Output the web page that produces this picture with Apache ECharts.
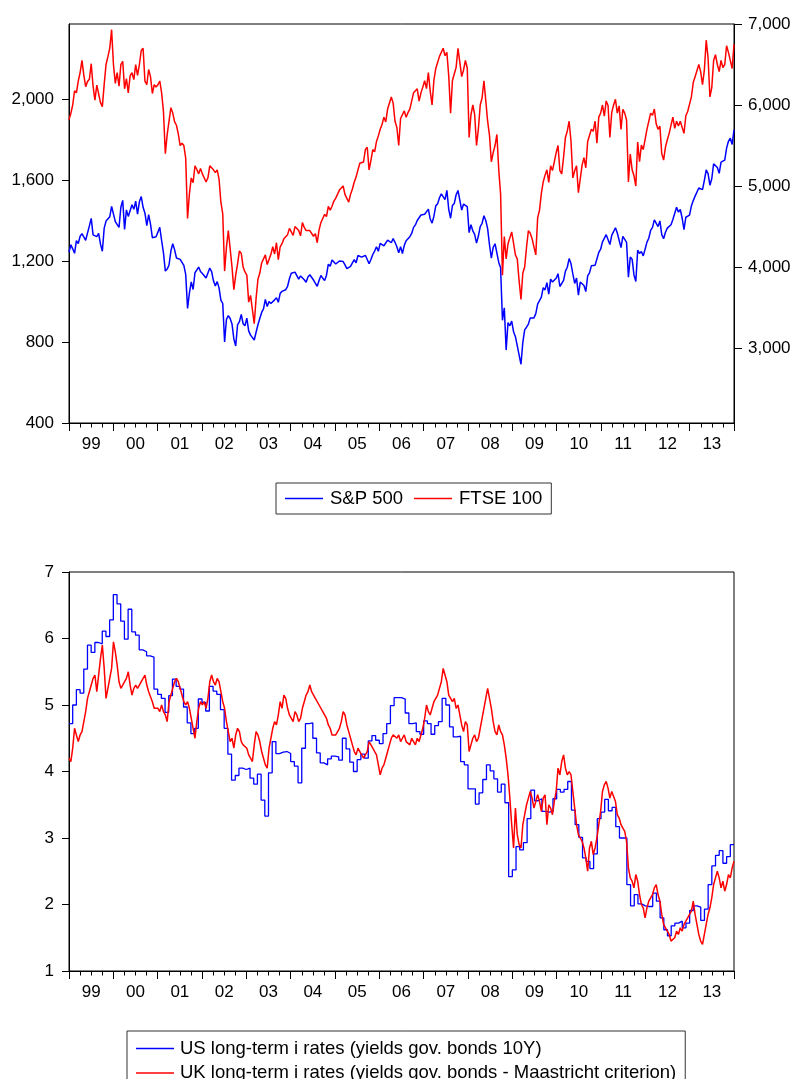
<!DOCTYPE html>
<html>
<head>
<meta charset="utf-8">
<script src="https://cdn.jsdelivr.net/npm/echarts@6/dist/echarts.min.js"></script>
<style>
html,body{margin:0;padding:0;background:#fff;}
#chart{width:795px;height:1079px;}
</style>
</head>
<body>
<div id="chart"></div>
<script>
// Semi-monthly observations, Jan 1999 - Dec 2013 (2 per month)
const spx = [
1243,1280,1260,1238,1300,1286,1322,1335,1340,1302,1294,1373,1410,1329,1330,1320,1336,1283,1248,1362,1397,1389,1418,1469,
1465,1394,1387,1366,1465,1499,1356,1452,1420,1421,1478,1455,1495,1431,1492,1518,1465,1436,1374,1429,1382,1315,1312,1320,
1326,1366,1301,1240,1150,1160,1180,1249,1285,1256,1215,1224,1208,1211,1178,1134,966,1041,1097,1059,1142,1139,1170,1148,
1138,1130,1116,1107,1165,1147,1102,1077,1098,1067,1007,990,800,912,930,916,889,815,780,885,900,936,890,880,
918,855,834,841,810,848,885,916,946,963,1010,975,1000,990,990,1008,1018,996,1040,1050,1050,1058,1075,1112,
1139,1131,1145,1145,1110,1126,1135,1107,1095,1121,1132,1141,1106,1102,1075,1104,1128,1115,1103,1130,1184,1174,1205,1212,
1185,1181,1200,1204,1197,1181,1162,1157,1173,1191,1206,1191,1227,1234,1219,1220,1228,1229,1186,1207,1232,1249,1270,1248,
1287,1280,1275,1281,1303,1295,1290,1311,1292,1270,1240,1270,1237,1277,1300,1304,1320,1336,1366,1378,1400,1401,1427,1418,
1431,1438,1456,1407,1387,1421,1472,1482,1512,1531,1532,1503,1549,1455,1411,1474,1484,1527,1548,1549,1451,1481,1486,1468,
1340,1379,1349,1331,1288,1323,1370,1386,1423,1400,1360,1280,1214,1267,1285,1283,1193,1166,907,969,760,896,880,903,
850,826,826,735,690,798,860,873,888,919,925,919,940,987,1004,1021,1068,1057,1093,1036,1110,1096,1105,1115,
1137,1074,1076,1104,1150,1169,1212,1187,1136,1089,1116,1031,1096,1102,1079,1049,1126,1141,1176,1183,1179,1181,1242,1258,
1294,1286,1330,1327,1281,1326,1320,1364,1338,1345,1266,1321,1316,1292,1120,1219,1209,1131,1099,1253,1237,1247,1225,1258,
1293,1312,1351,1366,1403,1408,1370,1398,1330,1310,1342,1362,1356,1379,1405,1407,1465,1441,1454,1412,1355,1416,1419,1426,
1472,1498,1520,1515,1560,1569,1552,1598,1650,1631,1574,1606,1680,1686,1661,1633,1688,1682,1698,1757,1791,1806,1775,1848
];
const ftse = [
5820,5896,6000,6175,6150,6296,6400,6552,6370,6226,6290,6318,6510,6231,6060,6246,6250,6030,5980,6255,6500,6597,6700,6930,
6500,6268,6400,6232,6500,6540,6200,6327,6150,6359,6400,6313,6500,6365,6500,6673,6700,6294,6250,6438,6350,6142,6250,6222,
6250,6297,6150,5918,5400,5634,5800,5967,5900,5796,5750,5643,5500,5529,5500,5345,4600,4903,5100,5040,5250,5204,5150,5217,
5150,5165,5050,5102,5250,5272,5200,5166,5200,5086,4800,4656,3950,4246,4450,4228,4000,3722,3900,4040,4200,4169,4000,3940,
3900,3567,3650,3656,3300,3613,3850,3926,4050,4048,4150,4031,4050,4157,4250,4161,4300,4091,4250,4288,4350,4342,4400,4477,
4500,4390,4500,4492,4450,4386,4550,4489,4450,4431,4450,4464,4380,4413,4300,4459,4550,4571,4650,4624,4750,4703,4750,4814,
4850,4852,4950,4968,5000,4894,4900,4801,4900,4964,5050,5113,5200,5282,5300,5297,5450,5478,5200,5317,5450,5423,5550,5619,
5700,5760,5850,5792,5950,5965,6100,6023,5800,5723,5500,5833,5850,5928,5850,5906,5950,5961,6150,6129,6200,6049,6150,6221,
6300,6203,6400,6172,6000,6308,6450,6449,6600,6621,6700,6608,6650,6360,5900,6303,6300,6467,6700,6722,6350,6433,6550,6457,
5600,5880,6000,5884,5500,5702,6000,6087,6300,6054,5800,5626,5300,5412,5500,5637,5200,4902,3900,4377,4100,4288,4300,4434,
4450,4150,4100,3830,3600,3926,4000,4244,4450,4418,4350,4249,4150,4608,4700,4909,5050,5134,5200,5045,5250,5191,5300,5413,
5500,5189,5150,5355,5600,5680,5800,5553,5100,5188,5250,4917,4900,5258,5350,5225,5550,5549,5700,5675,5800,5528,5850,5900,
6000,5863,6050,5994,5600,5909,6000,6070,5900,5990,5700,5946,5900,5815,5050,5395,5200,5128,5000,5544,5300,5505,5450,5572,
5700,5682,5900,5872,5950,5768,5700,5738,5400,5321,5480,5571,5650,5635,5850,5711,5800,5742,5800,5783,5650,5867,5920,5898,
6100,6277,6350,6361,6500,6412,6250,6430,6800,6583,6100,6215,6550,6621,6500,6413,6550,6462,6500,6731,6650,6651,6450,6749
];
const ukRate = [
4.20,4.15,4.35,4.65,4.55,4.45,4.55,4.60,4.75,4.90,5.10,5.20,5.30,5.40,5.45,5.20,5.45,5.70,5.90,5.55,5.10,5.25,5.40,5.55,
5.95,5.80,5.60,5.35,5.25,5.30,5.35,5.40,5.50,5.30,5.15,5.25,5.30,5.25,5.30,5.35,5.40,5.45,5.30,5.20,5.20,5.05,4.95,4.95,
4.95,4.90,5.00,4.90,4.85,4.75,5.05,5.15,5.25,5.35,5.40,5.35,5.25,5.15,5.05,5.00,5.05,4.95,4.80,4.65,4.50,4.75,4.95,5.05,
5.00,5.05,4.95,5.10,5.35,5.45,5.35,5.30,5.40,5.35,5.20,5.05,4.95,4.75,4.60,4.45,4.50,4.35,4.55,4.65,4.60,4.45,4.40,4.40,
4.35,4.25,4.20,4.15,4.40,4.60,4.55,4.45,4.30,4.20,4.10,4.05,4.35,4.50,4.65,4.75,4.70,4.85,5.05,4.95,5.15,5.10,4.95,4.85,
4.85,4.75,4.90,4.85,4.75,4.80,4.95,5.05,5.15,5.20,5.30,5.20,5.15,5.10,5.10,5.00,5.00,4.90,4.85,4.80,4.70,4.65,4.55,4.55,
4.55,4.60,4.65,4.75,4.90,4.85,4.70,4.60,4.50,4.40,4.30,4.25,4.35,4.30,4.30,4.20,4.20,4.30,4.45,4.40,4.35,4.30,4.25,4.10,
3.95,4.05,4.10,4.20,4.30,4.40,4.50,4.55,4.55,4.50,4.55,4.45,4.50,4.55,4.45,4.45,4.40,4.50,4.45,4.40,4.50,4.45,4.55,4.65,
4.80,5.00,4.90,4.85,4.95,5.05,5.10,5.15,5.25,5.35,5.55,5.45,5.35,5.15,5.10,5.05,5.10,4.95,5.00,4.85,4.70,4.60,4.75,4.70,
4.30,4.40,4.50,4.55,4.45,4.50,4.65,4.80,4.95,5.10,5.25,5.10,4.95,4.75,4.60,4.55,4.70,4.60,4.55,4.40,4.20,3.95,3.60,3.20,
2.85,3.45,3.05,2.90,2.85,3.20,3.35,3.50,3.60,3.70,3.60,3.45,3.55,3.65,3.55,3.40,3.60,3.65,3.20,3.50,3.45,3.35,3.55,3.70,
4.05,3.95,4.15,4.25,4.05,3.95,4.00,3.95,3.70,3.45,3.20,3.05,3.00,2.95,2.85,2.70,2.50,2.85,2.95,2.75,2.85,3.00,3.20,3.40,
3.70,3.80,3.85,3.75,3.60,3.70,3.70,3.55,3.35,3.30,3.20,3.15,3.10,2.95,2.55,2.40,2.35,2.25,2.45,2.35,2.15,2.00,1.95,1.80,
1.95,2.05,2.10,2.15,2.25,2.30,2.15,2.05,1.85,1.70,1.65,1.60,1.55,1.45,1.45,1.50,1.60,1.55,1.65,1.60,1.70,1.75,1.80,1.85,
1.90,2.05,1.85,1.70,1.55,1.45,1.40,1.55,1.70,1.85,1.95,2.10,2.30,2.40,2.50,2.40,2.25,2.35,2.20,2.30,2.45,2.40,2.55,2.65
];
// Monthly observations, Jan 1999 - Dec 2013
const usRate = [
4.72,5.00,5.23,5.18,5.54,5.90,5.79,5.94,5.92,6.11,6.03,6.28,
6.66,6.52,6.26,5.99,6.44,6.10,6.05,5.83,5.80,5.74,5.72,5.24,
5.16,5.10,4.89,5.14,5.39,5.28,5.24,4.97,4.73,4.57,4.65,5.09,
5.04,4.91,5.28,5.21,5.16,4.93,4.65,4.26,3.87,3.94,4.05,4.03,
4.05,3.90,3.81,3.96,3.57,3.33,3.98,4.45,4.27,4.29,4.30,4.27,
4.15,4.08,3.83,4.35,4.72,4.73,4.50,4.28,4.13,4.10,4.19,4.23,
4.22,4.17,4.50,4.34,4.14,4.00,4.18,4.26,4.20,4.46,4.54,4.47,
4.42,4.57,4.72,4.99,5.11,5.11,5.09,4.88,4.72,4.73,4.60,4.56,
4.76,4.72,4.56,4.69,4.75,5.10,5.00,4.67,4.52,4.53,4.15,4.10,
3.74,3.74,3.51,3.68,3.88,4.10,4.01,3.89,3.69,3.81,3.53,2.42,
2.52,2.87,2.82,2.93,3.29,3.72,3.56,3.59,3.40,3.39,3.40,3.59,
3.73,3.69,3.73,3.85,3.42,3.20,3.01,2.70,2.65,2.54,2.76,3.29,
3.39,3.58,3.41,3.46,3.17,3.00,3.00,2.30,1.98,2.15,2.01,1.98,
1.97,1.97,2.17,2.05,1.80,1.62,1.53,1.68,1.72,1.75,1.65,1.72,
1.91,1.98,1.96,1.76,1.93,2.30,2.58,2.74,2.81,2.62,2.72,2.90
];
const yearLabels = ['99','00','01','02','03','04','05','06','07','08','09','10','11','12','13'];
const spxTicks = [400, 800, 1200, 1600, 2000];
const ftseTicks = [3000, 4000, 5000, 6000, 7000];
const rateTicks = [1, 2, 3, 4, 5, 6, 7];

const START = 1999, END = 2014;
// time index (decimal years)
const semiDates = spx.map((_, i) => START + i * (END - START) / (spx.length - 1));
const monthDates = usRate.map((_, i) => START + i / 12);

const pair = (dates, vals) => vals.map((v, i) => [dates[i], v]);
const usData = pair(monthDates, usRate);
usData.push([END, usRate[usRate.length - 1]]);

const FONT = '"Liberation Sans", Arial, Helvetica, sans-serif';
const FS = 17;
const LFS = 18.5;
const LW = 1.5;
const yearTicks = [];
for (let y = START; y <= END; y++) yearTicks.push(y);
const labelPos = yearLabels.map((_, i) => START + i + 0.5);

function xAxisFor(gridIndex) {
  return {
    type: 'value', gridIndex, min: START, max: END, interval: 1,
    axisLine: { show: true, lineStyle: { color: '#000', width: 1 } },
    axisTick: { show: true, length: 8, customValues: yearTicks, lineStyle: { color: '#000' } },
    minorTick: { show: true, splitNumber: 4, length: 4.5, lineStyle: { color: '#000' } },
    axisLabel: {
      customValues: labelPos, margin: 13, color: '#000', fontSize: FS, fontFamily: FONT,
      formatter: v => yearLabels[Math.floor(v) - START]
    },
    splitLine: { show: false }, minorSplitLine: { show: false }
  };
}
const fmtComma = v => Number(v).toLocaleString('en-US');

const option = {
  animation: false,
  backgroundColor: '#fff',
  grid: [
    { left: 69, top: 24, width: 665, height: 399, show: true, borderColor: '#000', borderWidth: 1 },
    { left: 69, top: 572, width: 665, height: 399, show: true, borderColor: '#000', borderWidth: 1 }
  ],
  xAxis: [xAxisFor(0), xAxisFor(1)],
  yAxis: [
    {
      type: 'value', gridIndex: 0, min: 400, max: 2370, position: 'left',
      axisLine: { show: true, lineStyle: { color: '#000' } },
      axisTick: { show: true, length: 7, customValues: spxTicks, lineStyle: { color: '#000' } },
      axisLabel: { customValues: spxTicks, margin: 15, color: '#000', fontSize: FS, fontFamily: FONT, formatter: fmtComma },
      splitLine: { show: false }
    },
    {
      type: 'value', gridIndex: 0, min: 2075, max: 7000, position: 'right',
      axisLine: { show: true, lineStyle: { color: '#000' } },
      axisTick: { show: true, length: 8, customValues: ftseTicks, lineStyle: { color: '#000' } },
      axisLabel: { customValues: ftseTicks, margin: 14, color: '#000', fontSize: FS, fontFamily: FONT, formatter: fmtComma },
      splitLine: { show: false }
    },
    {
      type: 'value', gridIndex: 1, min: 1, max: 7, interval: 1, position: 'left',
      axisLine: { show: true, lineStyle: { color: '#000' } },
      axisTick: { show: true, length: 7, customValues: rateTicks, lineStyle: { color: '#000' } },
      axisLabel: { customValues: rateTicks, margin: 15, color: '#000', fontSize: FS, fontFamily: FONT },
      splitLine: { show: false }
    }
  ],
  legend: [
    {
      data: ['S&P 500', 'FTSE 100'], orient: 'horizontal', left: 276, top: 483,
      icon: 'rect', itemWidth: 38, itemHeight: 1.5, itemGap: 11,
      padding: [6, 9, 6, 9], borderColor: '#333', borderWidth: 1,
      textStyle: { fontSize: LFS, color: '#000', fontFamily: FONT, padding: [0, 0, 0, 2] },
      selectedMode: false
    },
    {
      data: ['US long-term i rates (yields gov. bonds 10Y)', 'UK long-term i rates (yields gov. bonds - Maastricht criterion)'],
      orient: 'vertical', left: 127, top: 1031, height: 120, width: 600,
      icon: 'rect', itemWidth: 38, itemHeight: 1.5, itemGap: 5.5,
      padding: [8, 9, 8, 9], borderColor: '#333', borderWidth: 1,
      textStyle: { fontSize: LFS, color: '#000', fontFamily: FONT, padding: [0, 0, 0, 1] },
      selectedMode: false
    }
  ],
  series: [
    {
      name: 'S&P 500', type: 'line', xAxisIndex: 0, yAxisIndex: 0, data: pair(semiDates, spx),
      showSymbol: false, symbol: 'none', color: '#0000ff',
      lineStyle: { color: '#0000ff', width: LW }, itemStyle: { color: '#0000ff' }
    },
    {
      name: 'FTSE 100', type: 'line', xAxisIndex: 0, yAxisIndex: 1, data: pair(semiDates, ftse),
      showSymbol: false, symbol: 'none', color: '#ff0000',
      lineStyle: { color: '#ff0000', width: LW }, itemStyle: { color: '#ff0000' }
    },
    {
      name: 'US long-term i rates (yields gov. bonds 10Y)', type: 'line', xAxisIndex: 1, yAxisIndex: 2,
      data: usData, step: 'end',
      showSymbol: false, symbol: 'none', color: '#0000ff',
      lineStyle: { color: '#0000ff', width: 1.3 }, itemStyle: { color: '#0000ff' }
    },
    {
      name: 'UK long-term i rates (yields gov. bonds - Maastricht criterion)', type: 'line', xAxisIndex: 1, yAxisIndex: 2,
      data: pair(semiDates, ukRate),
      showSymbol: false, symbol: 'none', color: '#ff0000',
      lineStyle: { color: '#ff0000', width: LW }, itemStyle: { color: '#ff0000' }
    }
  ]
};

const chart = echarts.init(document.getElementById('chart'), null, { renderer: 'canvas' });
chart.setOption(option);
</script>
</body>
</html>
